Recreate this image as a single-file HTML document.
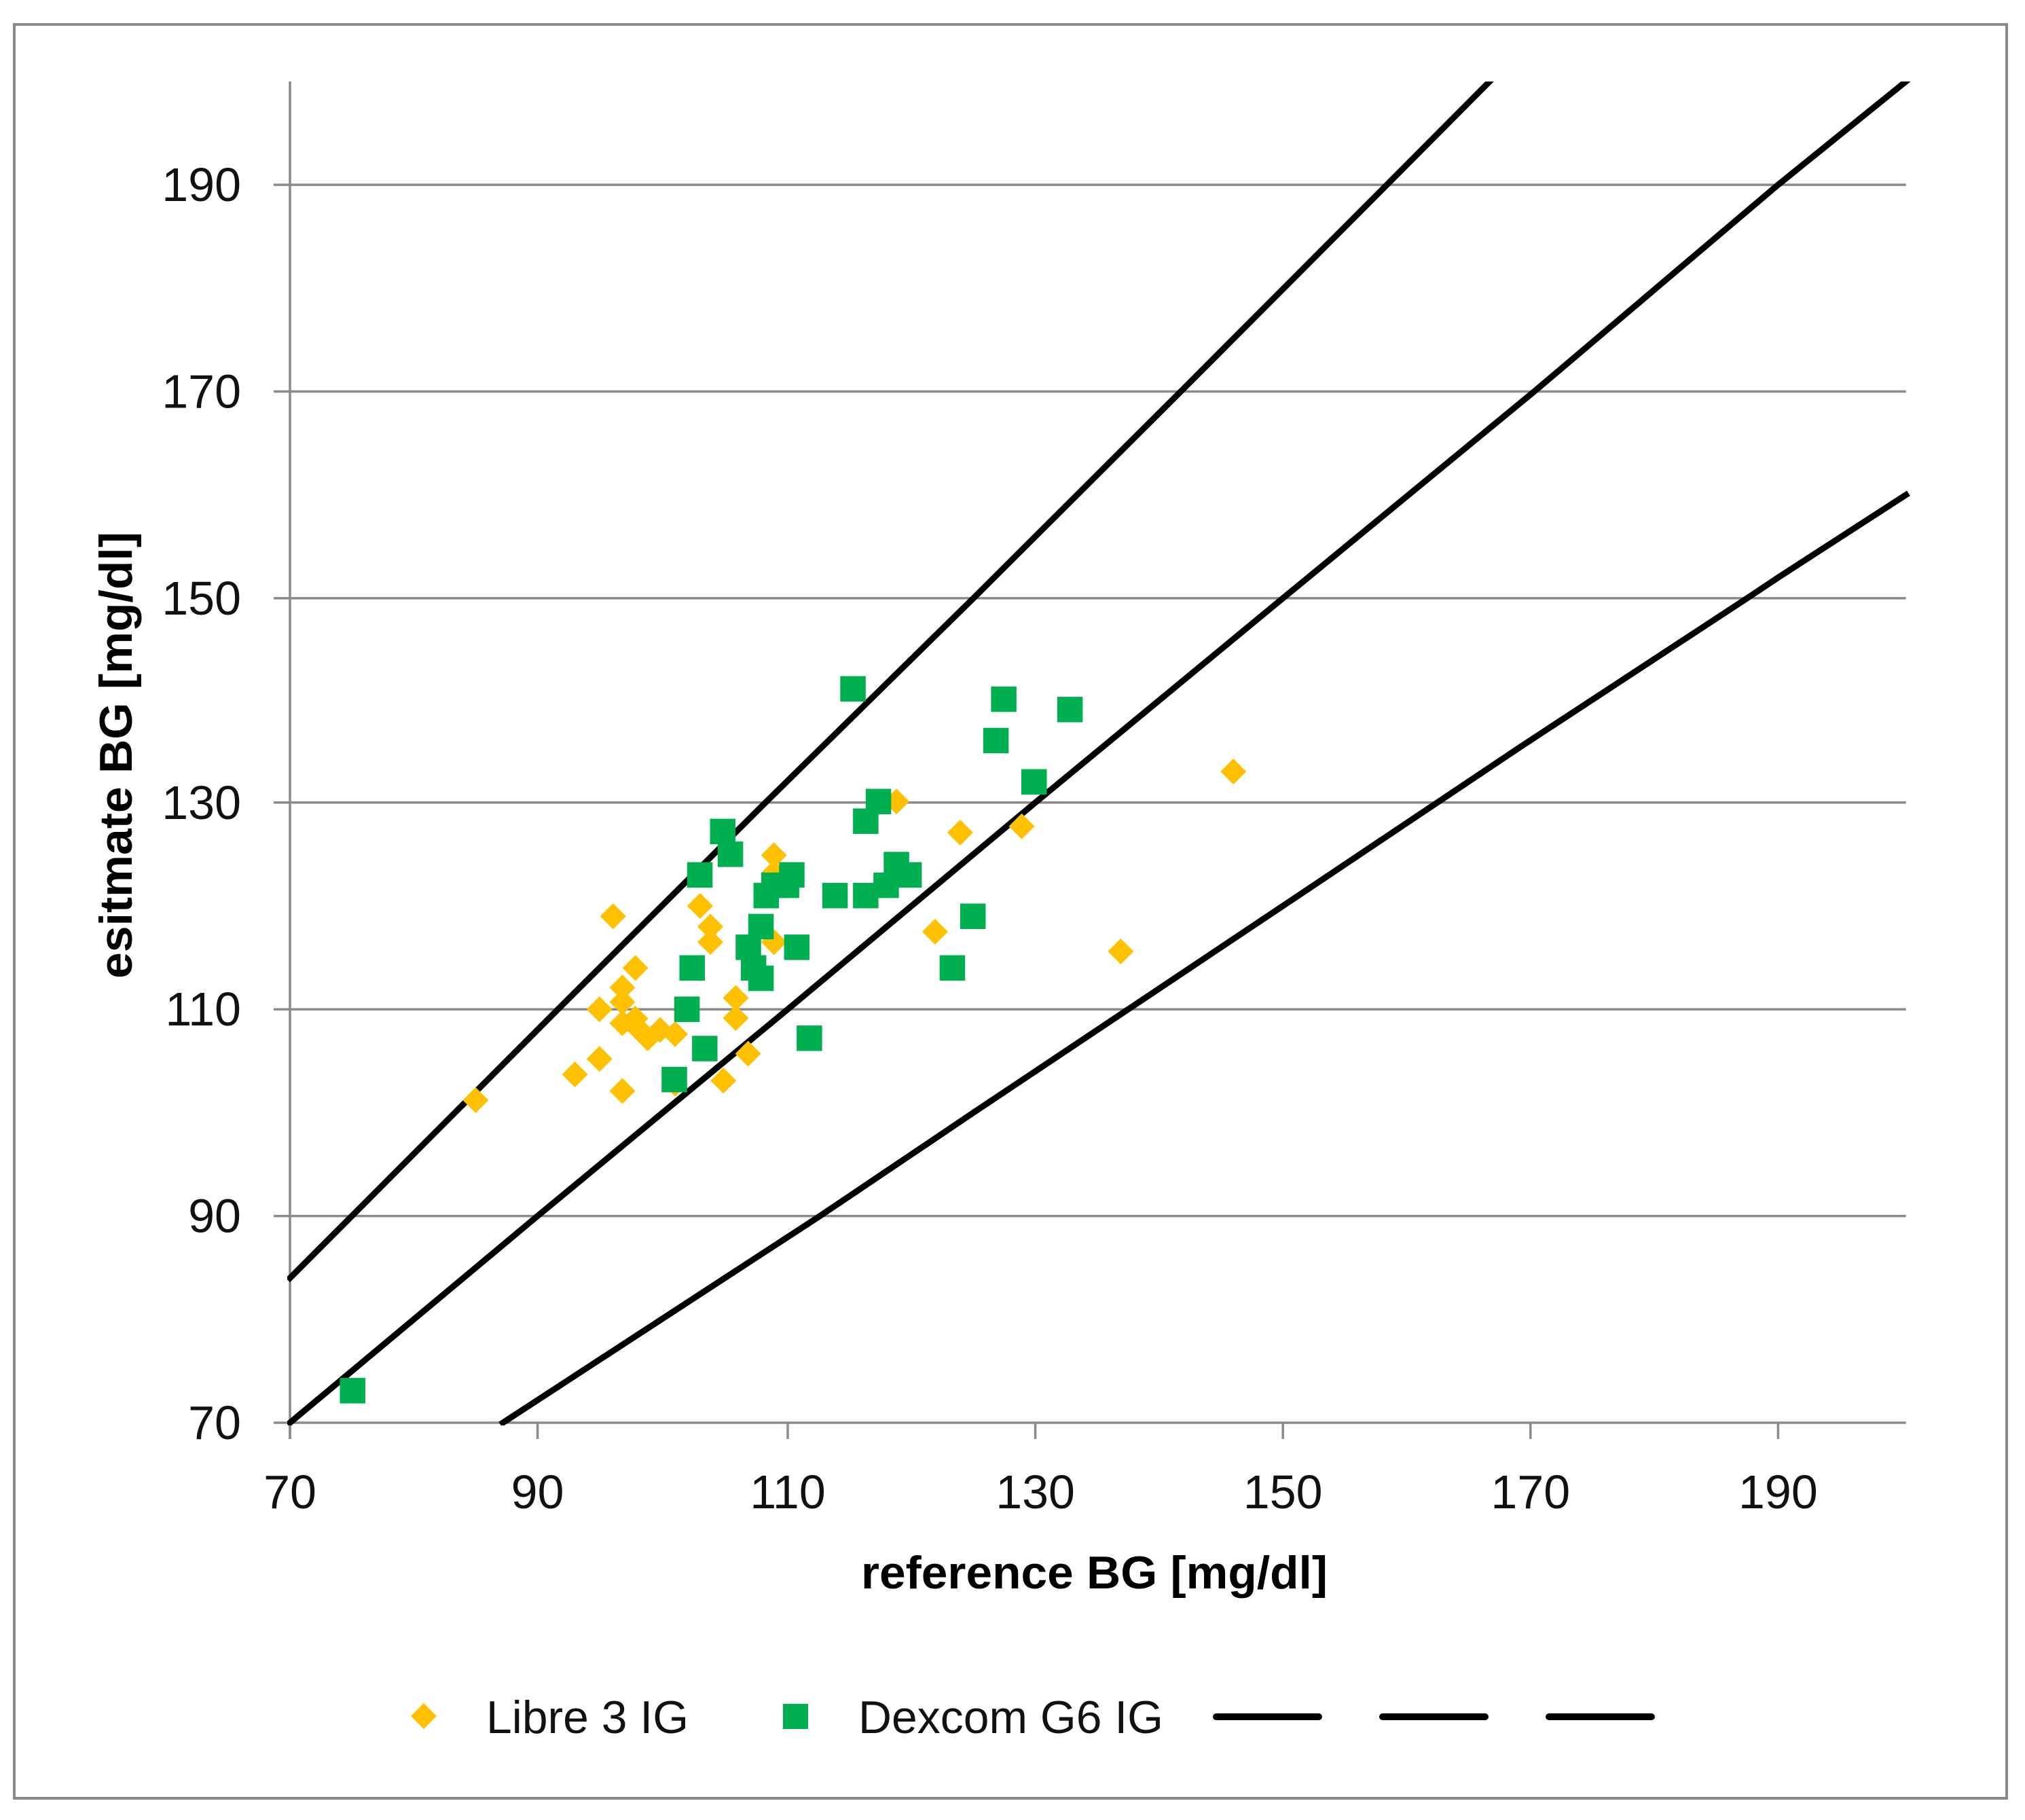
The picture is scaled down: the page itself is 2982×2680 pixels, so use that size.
<!DOCTYPE html>
<html lang="en">
<head>
<meta charset="utf-8">
<title>Reference vs estimate BG scatter chart</title>
<style>
html,body{margin:0;padding:0;background:#fff;width:2982px;height:2680px;overflow:hidden}
svg{display:block}
text{font-family:"Liberation Sans",sans-serif;fill:#111}
</style>
</head>
<body>
<svg id="chart" xmlns="http://www.w3.org/2000/svg" width="2982" height="2680" viewBox="0 0 2982 2680">
  <rect x="21" y="36" width="2934" height="2612" fill="#fff" stroke="#898989" stroke-width="4"/>
  <defs><clipPath id="plot-clip"><rect x="423" y="120" width="2390" height="1979"/></clipPath></defs>
  <g id="grid"></g>
  <g id="axes"></g>
  <g id="lines" clip-path="url(#plot-clip)"></g>
  <g id="libre"></g>
  <g id="dexcom"></g>
  <text x="1268" y="2339" font-size="68" font-weight="700" textLength="687" lengthAdjust="spacingAndGlyphs" style="fill:#000">reference BG [mg/dl]</text>
  <text transform="translate(194,1441) rotate(-90)" font-size="68" font-weight="700" textLength="658" lengthAdjust="spacingAndGlyphs" style="fill:#000">esitmate BG [mg/dl]</text>
  <g>
    <polygon points="624,2508 643,2527 624,2546 605,2527" fill="#FFC000"/>
    <text x="716" y="2552" font-size="68" textLength="298" lengthAdjust="spacingAndGlyphs">Libre 3 IG</text>
    <rect x="1153" y="2509" width="37" height="37" fill="#00B050"/>
    <text x="1264" y="2552" font-size="68" textLength="449" lengthAdjust="spacingAndGlyphs">Dexcom G6 IG</text>
    <line x1="1791" y1="2528" x2="1942" y2="2528" stroke="#000" stroke-width="10" stroke-linecap="round"/>
    <line x1="2036" y1="2528" x2="2187" y2="2528" stroke="#000" stroke-width="10" stroke-linecap="round"/>
    <line x1="2281" y1="2528" x2="2432" y2="2528" stroke="#000" stroke-width="10" stroke-linecap="round"/>
  </g>
</svg>
<script>
const xTicks = [70, 90, 110, 130, 150, 170, 190];
const yTicks = [70, 90, 110, 130, 150, 170, 190];

const libreRef = [85, 93.02, 95, 95, 96.1, 96.85, 96.85, 96.85, 96.85, 97.9, 97.9, 97.9, 98.9, 99.9, 100.9, 100.9, 102.92, 103.75, 103.75, 104.8, 105.8, 105.8, 106.8, 108.89, 108.89, 108.89, 118.78, 121.9, 123.93, 128.9, 136.9, 146];
const libreEst = [101.2, 103.7, 105.2, 110, 119, 112.1, 110.7, 108.65, 102.1, 114, 109.1, 108.4, 107.2, 108, 107.6, 102.8, 120, 118, 116.5, 103.1, 111.1, 109.15, 105.7, 124.9, 123.2, 116.5, 130.1, 117.5, 127.1, 127.7, 115.6, 133];

const dexcomRef = [75.06, 100.84, 101.86, 102.28, 102.9, 103.3, 104.75, 105.37, 106.82, 107.24, 107.84, 107.84, 108.26, 108.89, 109.9, 110.33, 110.73, 111.75, 113.82, 115.27, 116.3, 116.3, 117.33, 117.95, 118.78, 119.8, 123.3, 124.96, 126.82, 127.45, 129.9, 132.8];
const dexcomEst = [73.1, 103.2, 110, 114, 123, 106.2, 127.2, 125, 116, 114, 113, 118, 121, 122, 122, 123, 116, 107.2, 121, 141, 121, 128.2, 130.1, 122, 124, 123, 114, 119, 136, 140, 132, 139];

const upperRef = [70, 75, 91.65, 108.2, 125, 141.75, 158.4, 166.7];
const upperEst = [84, 90, 110, 130, 150, 170, 190, 200];
const identityRef = [70, 90, 110, 130, 150, 170.3, 190, 200];
const identityEst = [70, 90, 110, 130, 150, 170, 190, 200];
const lowerRef = [87.2, 112.6, 125, 137.5, 150, 169.2, 187.5, 190, 200];
const lowerEst = [70, 90, 100, 110, 120, 135.4, 150, 152, 160];

const NS = 'http://www.w3.org/2000/svg';
function xAxis(v) {
  let px = 427 + (v - 70) * 18.23;
  if (v > 100) { px += 3.8; }
  if (v > 190) { px += 6; }
  return px;
}
function yAxis(v) {
  let px = 2095 - (v - 70) * 15.22;
  if (v > 145) { px += 3.5; }
  return px;
}
function make(tag, parent) {
  const el = document.createElementNS(NS, tag);
  parent.appendChild(el);
  return el;
}
function seg(el, x1, y1, x2, y2, color, w) {
  el.setAttribute('x1', x1);
  el.setAttribute('y1', y1);
  el.setAttribute('x2', x2);
  el.setAttribute('y2', y2);
  el.setAttribute('stroke', color);
  el.setAttribute('stroke-width', w);
}

const gridG = document.getElementById('grid');
const axesG = document.getElementById('axes');
const linesG = document.getElementById('lines');
const libreG = document.getElementById('libre');
const dexcomG = document.getElementById('dexcom');

yTicks.forEach(function (t) {
  const g = make('line', gridG);
  
  
  seg(g, xAxis(70) - 24, yAxis(t), xAxis(200), yAxis(t), '#8a8a8a', 3.5);
  const lab = make('text', axesG);
  
  
  lab.setAttribute('x', 355);
  lab.setAttribute('y', yAxis(t) + 24);
  lab.setAttribute('font-size', '70');
  lab.setAttribute('text-anchor', 'end');
  lab.textContent = t;
});

const yLine = make('line', axesG);


seg(yLine, xAxis(70), yAxis(200), xAxis(70), yAxis(70) + 24, '#8a8a8a', 3.5);

xTicks.forEach(function (t) {
  const k = make('line', axesG);
  
  
  seg(k, xAxis(t), yAxis(70), xAxis(t), yAxis(70) + 24, '#8a8a8a', 3.5);
  const lab = make('text', axesG);
  
  
  lab.setAttribute('x', xAxis(t));
  lab.setAttribute('y', 2221);
  lab.setAttribute('font-size', '70');
  lab.setAttribute('text-anchor', 'middle');
  lab.textContent = t;
});

function drawLine(name, xs, ys) {
  const p = make('polyline', linesG);
  
  
  p.setAttribute('points', xs.map(function (x, i) { return xAxis(x) + ',' + yAxis(ys[i]); }).join(' '));
  p.setAttribute('fill', 'none');
  p.setAttribute('stroke', '#000');
  p.setAttribute('stroke-width', '9');
  p.setAttribute('stroke-linejoin', 'round');
  p.setAttribute('stroke-linecap', 'square');
}
drawLine('upper-limit-line', upperRef, upperEst);
drawLine('identity-line', identityRef, identityEst);
drawLine('lower-limit-line', lowerRef, lowerEst);

libreRef.forEach(function (x, i) {
  const cx = xAxis(x), cy = yAxis(libreEst[i]), r = 19;
  const d = make('polygon', libreG);
  
  
  d.setAttribute('points', cx + ',' + (cy - r) + ' ' + (cx + r) + ',' + cy + ' ' + cx + ',' + (cy + r) + ' ' + (cx - r) + ',' + cy);
  d.setAttribute('fill', '#FFC000');
});

dexcomRef.forEach(function (x, i) {
  const cx = xAxis(x), cy = yAxis(dexcomEst[i]), s = 37.5;
  const r = make('rect', dexcomG);
  
  
  r.setAttribute('x', cx - s / 2);
  r.setAttribute('y', cy - s / 2);
  r.setAttribute('width', s);
  r.setAttribute('height', s);
  r.setAttribute('fill', '#00B050');
});
</script>
</body>
</html>
